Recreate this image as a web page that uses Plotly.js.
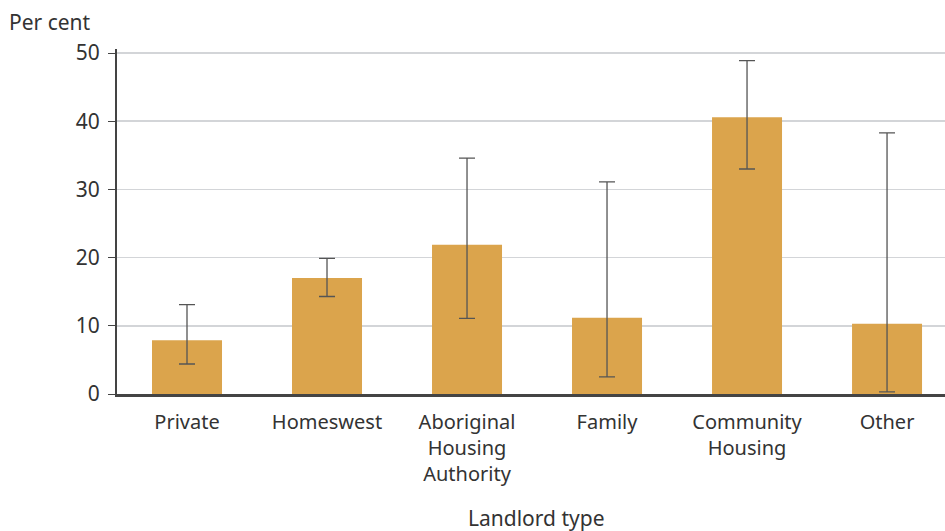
<!DOCTYPE html>
<html>
<head>
<meta charset="utf-8">
<script src="https://cdn.plot.ly/plotly-3.0.1.min.js"></script>
<style>html,body{margin:0;padding:0;background:#fff;}#chart{width:945px;height:531px;}</style>
</head>
<body>
<div id="chart"></div>
<script>
const categories = ["Private", "Homeswest", "Aboriginal<br>Housing<br>Authority", "Family", "Community<br>Housing", "Other"];
const values = [7.9, 17.0, 21.9, 11.2, 40.6, 10.3];
const upper = [13.1, 19.9, 34.6, 31.1, 48.9, 38.3];
const lower = [4.4, 14.3, 11.1, 2.5, 33.0, 0.3];

const errPlus = values.map((v, i) => upper[i] - v);
const errMinus = values.map((v, i) => v - lower[i]);

const font = "Noto Sans, Open Sans, sans-serif";

const trace = {
  type: "bar",
  x: categories,
  y: values,
  marker: {color: "#DBA44C"},
  error_y: {type: "data", symmetric: false, array: errPlus, arrayminus: errMinus,
            color: "#555555", thickness: 1.3, width: 8},
  hoverinfo: "skip"
};

const layout = {
  width: 945, height: 531,
  margin: {l: 117, r: 0, t: 49, b: 137},
  paper_bgcolor: "#fff", plot_bgcolor: "#fff",
  showlegend: false,
  bargap: 0.5,
  font: {family: font, size: 21, color: "#333"},
  xaxis: {
    range: [-0.5, 5.414],
    showline: true, linecolor: "#444", linewidth: 2.5,
    ticks: "", showgrid: false, zeroline: false,
    ticklabelstandoff: 8,
    tickfont: {family: font, size: 20, color: "#333"},
    fixedrange: true
  },
  yaxis: {
    range: [0, 50.6],
    tickvals: [0, 10, 20, 30, 40, 50],
    showline: true, linecolor: "#444", linewidth: 2,
    ticks: "outside", ticklen: 7, tickcolor: "#444", tickwidth: 1,
    ticklabelstandoff: 4,
    showgrid: true, gridcolor: "#D3D5D8", gridwidth: 1.6,
    zeroline: false,
    tickfont: {family: font, size: 21, color: "#333"},
    fixedrange: true
  },
  annotations: [
    {text: "Per cent", xref: "paper", yref: "paper", x: -117/828, y: 1 + (49 - 22) / 345,
     xanchor: "left", yanchor: "middle", xshift: 7, showarrow: false,
     font: {family: font, size: 21, color: "#333"}},
    {text: "Landlord type", xref: "paper", yref: "paper", x: 0.5, y: -(518 - 394) / 345,
     xanchor: "center", yanchor: "middle", xshift: 5, showarrow: false,
     font: {family: font, size: 21, color: "#333"}}
  ]
};

Plotly.newPlot("chart", [trace], layout, {displayModeBar: false, staticPlot: true});
</script>
</body>
</html>
